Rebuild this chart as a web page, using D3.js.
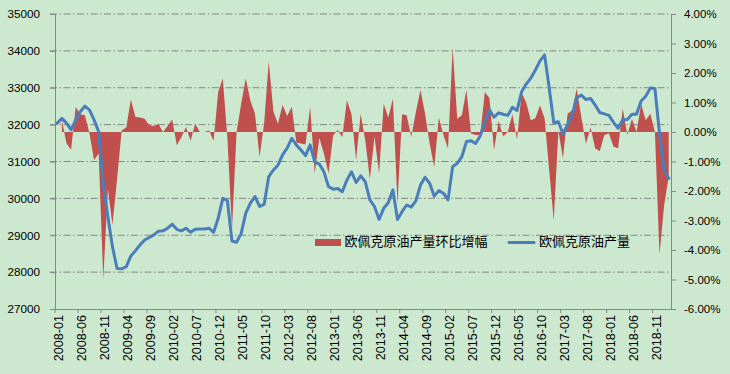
<!DOCTYPE html>
<html>
<head>
<meta charset="utf-8">
<script src="https://cdn.jsdelivr.net/npm/d3@7"></script>
<style>
  html, body { margin: 0; padding: 0; background: #cce8cf; }
  svg { display: block; }
</style>
</head>
<body>
<div id="chart"></div>
<script>
// monthly categories 2008-01 .. 2019-02
const months = [];
for (let y = 2008; y <= 2019; y++) {
  for (let m = 1; m <= 12; m++) {
    if (y === 2019 && m > 2) break;
    months.push(`${y}-${String(m).padStart(2, '0')}`);
  }
}

// OPEC crude output (left axis)
const output = [
  32040, 32170, 32040, 31860, 32130, 32350, 32500, 32400, 32130, 31810,
  30410, 29500, 28690, 28100, 28090, 28150, 28440, 28580, 28740, 28870,
  28940, 29010, 29110, 29120, 29190, 29300, 29160, 29120, 29190, 29080,
  29160, 29170, 29170, 29190, 29080, 29460, 30000, 29940, 28840, 28810,
  29050, 29600, 29870, 30050, 29780, 29840, 30590, 30770, 30900, 31180,
  31360, 31630, 31450, 31310, 31160, 31450, 30990, 30930, 30720, 30320,
  30250, 30270, 30180, 30500, 30720, 30430, 30610, 30450, 29960, 29780,
  29430, 29730, 29880, 30230, 29430, 29640, 29820, 29760, 29930, 30360,
  30570, 30410, 30060, 30210, 30140, 29960, 30860, 30950, 31130, 31540,
  31560, 31490, 31690, 32080, 32400, 32200, 32320, 32280, 32250, 32470,
  32380, 32890, 33100, 33260, 33480, 33730, 33890, 33000, 32050, 32080,
  31750, 32000, 32260, 32730, 32800, 32680, 32710, 32530, 32330, 32290,
  32250, 32060, 31900, 32130, 32140, 32280, 32280, 32640, 32770, 32990,
  32980, 31760, 30770, 30540
];

// month-on-month change, % (right axis)
const momChange = [
  null, 0.4, -0.39, -0.6, 0.85, 0.6, 0.57, -0.05, -0.96, -0.73,
  -5.0, -1.93, -3.15, -1.6, 0.05, 0.15, 1.1, 0.51, 0.49, 0.45,
  0.23, 0.2, 0.27, 0.0, 0.2, 0.42, -0.45, -0.17, 0.17, -0.3,
  0.28, 0.0, 0.0, 0.05, -0.3, 1.36, 1.81, -0.2, -3.3, 0.0,
  0.96, 1.81, 1.07, 0.62, -0.85, 0.3, 2.4, 0.7, 0.28, 0.92,
  0.54, 0.86, -0.36, -0.39, -0.42, 0.86, -1.41, -0.2, -0.73, -1.41,
  -0.12, 0.07, -0.18, 1.08, 0.6, -0.95, 0.62, -0.3, -1.6, -0.15,
  -1.4, 0.96, 0.49, 1.13, -2.43, 0.6, 0.57, -0.17, 0.68, 1.42,
  0.62, -0.4, -1.19, 0.49, -0.1, -0.56, 2.86, 0.45, 0.57, 1.42,
  -0.05, -0.1, -0.1, 1.36, 1.15, -0.62, 0.37, -0.14, 0.0, 0.6,
  -0.25, 1.33, 1.0, 0.4, 0.47, 0.9, 0.47, -1.3, -3.0, 0.05,
  -0.9, 0.62, 0.74, 1.47, 0.5, -0.4, 0.15, -0.55, -0.65, -0.1,
  -0.05, -0.5, -0.55, 0.8, -0.1, 0.45, 0.0, 0.95, 0.4, 0.62,
  0.0, -4.15, -2.5, -1.5
];

const leftTicks = [27000, 28000, 29000, 30000, 31000, 32000, 33000, 34000, 35000];
const rightTicks = [-6, -5, -4, -3, -2, -1, 0, 1, 2, 3, 4];
const seriesNames = ['欧佩克原油产量环比增幅', '欧佩克原油产量'];

const width = 730;
const height = 374;
const plot = { left: 55, right: 671, top: 14, bottom: 309 };
const axisColor = '#868686';
const labelFont = '"Liberation Sans", Arial, sans-serif';

const svg = d3.select('#chart')
  .append('svg')
  .attr('width', width)
  .attr('height', height);

svg.append('rect')
  .attr('width', width)
  .attr('height', height)
  .attr('fill', '#cce8cf');

const x = d3.scaleBand().domain(months).range([plot.left, plot.right]);
const bw = x.bandwidth();
const cx = (i) => x(months[i]) + bw / 2;

const yL = d3.scaleLinear().domain([27000, 35000]).range([plot.bottom, plot.top]);
const yR = d3.scaleLinear().domain([-6, 4]).range([plot.bottom, plot.top]);

// gridlines (left axis)
svg.append('g')
  .selectAll('line')
  .data(leftTicks.filter((v) => v !== 27000))
  .enter()
  .append('line')
  .attr('x1', plot.left - 5)
  .attr('x2', plot.right)
  .attr('y1', (d) => yL(d))
  .attr('y2', (d) => yL(d))
  .attr('stroke', axisColor)
  .attr('stroke-width', 1)
  .attr('stroke-dasharray', '7,2.5,1.5,2.5');

// area: month-on-month change
const area = d3.area()
  .defined((d) => d != null)
  .x((d, i) => cx(i))
  .y0(yR(0))
  .y1((d) => yR(d));

svg.append('path')
  .datum(momChange)
  .attr('d', area)
  .attr('fill', '#c0504d');

// line: output
const line = d3.line()
  .x((d, i) => cx(i))
  .y((d) => yL(d));

svg.append('path')
  .datum(output)
  .attr('d', line)
  .attr('fill', 'none')
  .attr('stroke', '#4a7ebb')
  .attr('stroke-width', 3)
  .attr('stroke-linejoin', 'round')
  .attr('stroke-linecap', 'round');

// left axis
const gL = svg.append('g')
  .attr('transform', `translate(${plot.left},0)`)
  .call(d3.axisLeft(yL).tickValues(leftTicks).tickSize(5).tickSizeOuter(0).tickPadding(10).tickFormat(d3.format('d')));
gL.selectAll('text').style('font-family', labelFont).style('font-size', '11.7px').attr('fill', '#000');

// right axis
const gR = svg.append('g')
  .attr('transform', `translate(${plot.right},0)`)
  .call(d3.axisRight(yR).tickValues(rightTicks).tickSize(5).tickSizeOuter(0).tickPadding(8).tickFormat((v) => `${v.toFixed(2)}%`));
gR.selectAll('text').style('font-family', labelFont).style('font-size', '11.5px').attr('fill', '#000');

// bottom axis
const gB = svg.append('g')
  .attr('transform', `translate(0,${plot.bottom})`)
  .call(d3.axisBottom(x).tickValues(months.filter((d, i) => i % 5 === 0)).tickSize(4).tickSizeOuter(0));
gB.selectAll('.tick line').attr('x1', -bw / 2).attr('x2', -bw / 2);
gB.selectAll('text')
  .attr('transform', 'rotate(-90)')
  .attr('x', -6)
  .attr('y', 0)
  .attr('dy', '0.45em')
  .style('text-anchor', 'end')
  .style('font-family', labelFont)
  .style('font-size', '12.6px')
  .attr('fill', '#000');

svg.selectAll('.domain, .tick line').attr('stroke', axisColor);

// legend
const legendFont = '"Noto Sans CJK SC", "Noto Sans", sans-serif';
const lg = svg.append('g');
lg.append('rect')
  .attr('x', 315).attr('y', 239).attr('width', 26).attr('height', 7)
  .attr('fill', '#c0504d');
lg.append('text')
  .attr('x', 344.5).attr('y', 246)
  .style('font-family', legendFont).style('font-size', '13px')
  .attr('fill', '#000')
  .text(seriesNames[0]);
lg.append('line')
  .attr('x1', 509).attr('x2', 534).attr('y1', 242.5).attr('y2', 242.5)
  .attr('stroke', '#4a7ebb').attr('stroke-width', 3).attr('stroke-linecap', 'round');
lg.append('text')
  .attr('x', 539).attr('y', 246)
  .style('font-family', legendFont).style('font-size', '13px')
  .attr('fill', '#000')
  .text(seriesNames[1]);
</script>
</body>
</html>
